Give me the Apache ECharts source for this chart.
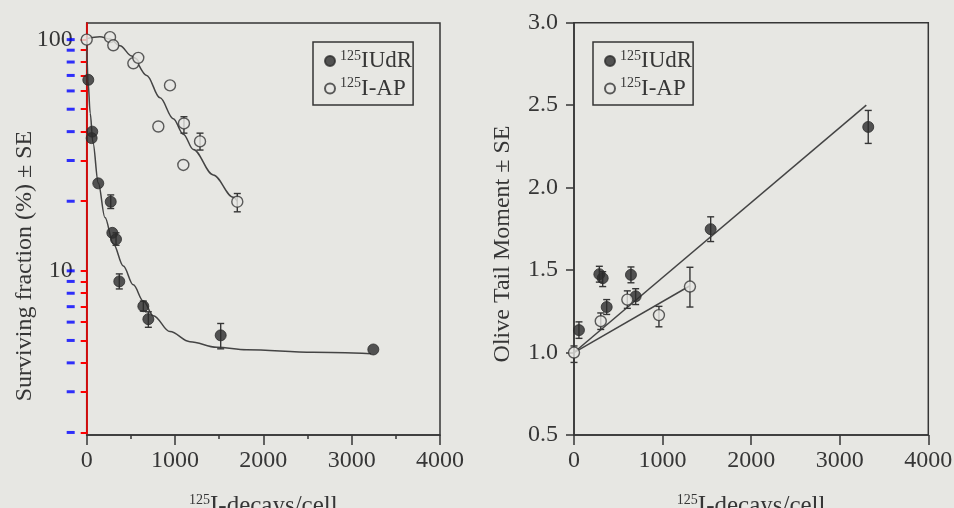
<!DOCTYPE html>
<html>
<head>
<meta charset="utf-8">
<script src="https://cdn.jsdelivr.net/npm/echarts@6/dist/echarts.min.js"></script>
<style>
html, body { margin: 0; padding: 0; background: #e7e7e3; }
#chart { width: 954px; height: 508px; }
</style>
</head>
<body>
<div id="chart"></div>
<script>
// left panel: surviving fraction (%), log axis
var survIUdR = [[18,67],[63,40],[56,37.5],[131,23.9],[272,19.9],[290,14.6],[332,13.7],[369,9.0],[641,7.03],[698,6.18],[1517,5.26],[3245,4.57]];
var survIUdRErr = [[272,18.6,21.3],[332,12.9,14.6],[369,8.35,9.7],[641,6.7,7.4],[698,5.7,6.65],[1517,4.6,5.92]];
var survIAP = [[0,100],[264,102.5],[301,94.5],[528,79],[584,83.4],[943,63.4],[811,42.1],[1101,43.4],[1094,28.7],[1283,36.3],[1705,19.9]];
var survIAPErr = [[1101,39.4,46.4],[1283,33.3,39.4],[1705,18.0,21.6]];
var survFitIUdR = [[0,100],[15,66],[40,48],[70,36],[131,24],[207,17],[301,13.1],[414,10.5],[528,8.7],[641,7.4],[754,6.4],[943,5.46],[1169,4.94],[1472,4.67],[1811,4.56],[2565,4.44],[3220,4.38]];
var survFitIAP = [[0,101],[150,103],[264,100.5],[377,94],[509,85],[679,70],[830,56],[980,45.5],[1094,39],[1207,33.5],[1433,26],[1660,20.8],[1705,20]];
var survTicks = [2,3,4,5,6,7,8,9,10,20,30,40,50,60,70,80,90,100];
var survLabels = [10, 100];
var survMin = 1.95, survMax = 118;

// right panel: olive tail moment
var tailIUdR = [[56,1.136],[286,1.475],[324,1.451],[369,1.276],[643,1.471],[696,1.341],[1543,1.748],[3322,2.368]];
var tailIUdRErr = [[56,1.086,1.186],[286,1.427,1.523],[324,1.40,1.49],[369,1.231,1.321],[643,1.423,1.519],[696,1.291,1.387],[1543,1.673,1.823],[3322,2.268,2.468]];
var tailIAP = [[0,1.0],[302,1.19],[602,1.321],[959,1.227],[1309,1.40]];
var tailIAPErr = [[0,0.94,1.04],[302,1.14,1.24],[602,1.268,1.374],[959,1.156,1.28],[1309,1.276,1.517]];
var tailFitIUdR = [[0,1.0],[3300,2.5]];
var tailFitIAP = [[0,1.0],[1309,1.405]];

var ink = '#363636';
var bg = '#e7e7e3';
var serif = '"Liberation Serif", "Times New Roman", serif';

var myChart = echarts.init(document.getElementById('chart'));

function errorBars(data, idx) {
  return {
    type: 'custom', xAxisIndex: idx, yAxisIndex: idx, data: data, z: 3, silent: true,
    encode: {x: 0, y: [1, 2]},
    renderItem: function (params, api) {
      var lo = api.coord([api.value(0), api.value(1)]);
      var hi = api.coord([api.value(0), api.value(2)]);
      var w = 3.5;
      var st = {stroke: ink, lineWidth: 1.4};
      return {type: 'group', children: [
        {type: 'line', shape: {x1: lo[0], y1: lo[1], x2: hi[0], y2: hi[1]}, style: st},
        {type: 'line', shape: {x1: lo[0] - w, y1: lo[1], x2: lo[0] + w, y2: lo[1]}, style: st},
        {type: 'line', shape: {x1: hi[0] - w, y1: hi[1], x2: hi[0] + w, y2: hi[1]}, style: st}
      ]};
    }
  };
}

function tickMarks(values, idx) {
  return {
    name: 'ticks', type: 'scatter', xAxisIndex: idx, yAxisIndex: idx, z: 10, silent: true, clip: false,
    data: values.map(function (v) { return [0, v]; }),
    symbol: 'rect', symbolSize: [8, 3], symbolOffset: [-16, 0],
    itemStyle: {color: 'blue'},
    emphasis: {disabled: true}
  };
}

function fitLine(data, idx, smooth) {
  return {
    type: 'line', xAxisIndex: idx, yAxisIndex: idx, data: data, z: 2, silent: true,
    showSymbol: false, smooth: smooth, smoothMonotone: 'x',
    lineStyle: {color: '#444', width: 1.5}
  };
}

function dots(name, data, idx, open) {
  return {
    name: name, type: 'scatter', xAxisIndex: idx, yAxisIndex: idx, data: data, z: 5,
    symbol: 'circle', symbolSize: 11,
    itemStyle: open ? {color: bg, borderColor: ink, borderWidth: 1.4} : {color: '#2c2c2c', borderColor: '#2c2c2c', borderWidth: 1},
    emphasis: {disabled: true}
  };
}

function xAxis(idx, minor) {
  return {
    type: 'value', gridIndex: idx, min: 0, max: 4000, interval: 1000,
    name: '{s|125}{n|I-decays/cell}', nameLocation: 'middle', nameGap: 58,
    nameTextStyle: {rich: {
      s: {fontFamily: serif, fontSize: 14, color: ink, verticalAlign: 'top', lineHeight: 16},
      n: {fontFamily: serif, fontSize: 25, color: ink, lineHeight: 26}
    }},
    axisLine: {lineStyle: {color: ink, width: 1.5}},
    axisTick: {length: 10, lineStyle: {color: ink, width: 1.5}},
    minorTick: {show: minor, splitNumber: 2, length: 4, lineStyle: {color: ink, width: 1.5}},
    axisLabel: {fontFamily: serif, fontSize: 24, color: ink, margin: 14,
      formatter: function (v) { return String(v); }},
    splitLine: {show: false}, minorSplitLine: {show: false}
  };
}

function legend(left) {
  return {
    orient: 'vertical', left: left, top: 42,
    data: [{name: 'IUdR'}, {name: 'I-AP'}],
    backgroundColor: 'transparent', borderColor: ink, borderWidth: 1.5,
    padding: [7, 1, 5, 11], itemGap: 4, itemWidth: 10, itemHeight: 10,
    selectedMode: false,
    formatter: function (n) { return '{s|125}{n|' + n + '}'; },
    textStyle: {rich: {
      s: {fontFamily: serif, fontSize: 14, color: ink, verticalAlign: 'top', lineHeight: 15},
      n: {fontFamily: serif, fontSize: 23, color: ink, lineHeight: 24}
    }}
  };
}

option = {
  backgroundColor: bg,
  animation: false,
  grid: [
    {left: 86.7, top: 23, width: 353.3, height: 412, outerBoundsMode: 'none', containLabel: false,
      show: true, borderColor: ink, borderWidth: 1.5, backgroundColor: 'transparent'},
    {left: 574, top: 22.7, width: 354.3, height: 412.3, outerBoundsMode: 'none', containLabel: false,
      show: true, borderColor: ink, borderWidth: 1.5, backgroundColor: 'transparent'}
  ],
  legend: [legend(313), legend(593)],
  xAxis: [xAxis(0, true), xAxis(1, false)],
  yAxis: [
    {
      type: 'log', gridIndex: 0, min: survMin, max: survMax, logBase: 10,
      axisLine: {lineStyle: {color: ink, width: 1.5}},
      axisTick: {show: false},
      axisLabel: {fontFamily: serif, fontSize: 24, color: ink, margin: 14, customValues: survLabels,
        formatter: function (v) { return String(Math.round(v)); }},
      splitLine: {show: false}
    },
    {
      type: 'value', gridIndex: 1, min: 0.5, max: 3.0, interval: 0.5,
      axisLine: {lineStyle: {color: ink, width: 1.5}},
      axisTick: {length: 8, lineStyle: {color: ink, width: 1.5}},
      axisLabel: {fontFamily: serif, fontSize: 24, color: ink, margin: 16,
        formatter: function (v) { return v.toFixed(1); }},
      splitLine: {show: false}
    },
    {
      type: 'value', gridIndex: 0, position: 'left',
      min: Math.log10(survMin), max: Math.log10(survMax),
      axisLine: {show: true, lineStyle: {color: 'red', width: 1.5}},
      axisTick: {show: true, length: 6, customValues: survTicks.map(Math.log10), lineStyle: {color: 'red', width: 2}},
      axisLabel: {show: false},
      splitLine: {show: false}
    }
  ],
  graphic: [
    {type: 'text', x: 25, y: 266, rotation: Math.PI / 2, silent: true,
      style: {text: 'Surviving fraction (%) \u00b1 SE', fontFamily: serif, fontSize: 24, fill: ink, align: 'center', verticalAlign: 'middle'}},
    {type: 'text', x: 503, y: 244, rotation: Math.PI / 2, silent: true,
      style: {text: 'Olive Tail Moment \u00b1 SE', fontFamily: serif, fontSize: 24, fill: ink, align: 'center', verticalAlign: 'middle'}}
  ],
  series: [
    tickMarks(survTicks, 0),
    fitLine(survFitIUdR, 0, 0.35),
    fitLine(survFitIAP, 0, 0.35),
    errorBars(survIUdRErr, 0),
    errorBars(survIAPErr, 0),
    dots('IUdR', survIUdR, 0, false),
    dots('I-AP', survIAP, 0, true),
    fitLine(tailFitIUdR, 1, false),
    fitLine(tailFitIAP, 1, false),
    errorBars(tailIUdRErr, 1),
    errorBars(tailIAPErr, 1),
    dots('IUdR', tailIUdR, 1, false),
    dots('I-AP', tailIAP, 1, true)
  ]
};

myChart.setOption(option);
</script>
</body>
</html>
